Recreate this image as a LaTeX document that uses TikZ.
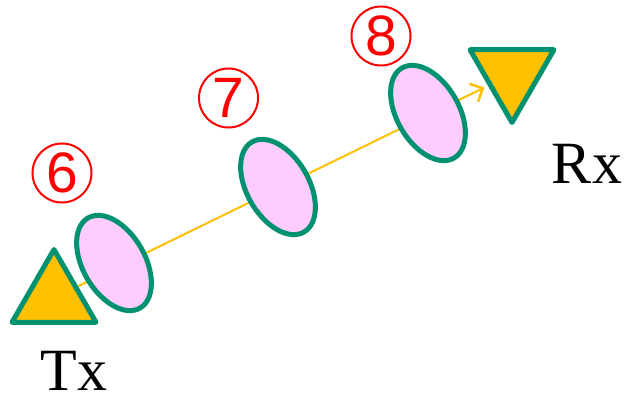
\documentclass[tikz,border=0pt]{standalone}
\usepackage{fontspec}
\setmainfont{Liberation Serif}
\setsansfont{Liberation Sans}
\usetikzlibrary{shapes.geometric,arrows.meta,backgrounds}
\definecolor{antgreen}{RGB}{0,146,112}
\definecolor{antorange}{RGB}{255,192,0}
\definecolor{lenspink}{RGB}{255,204,255}
\begin{document}
\begin{tikzpicture}[x=1pt,y=-1pt,
  antenna/.style={regular polygon,regular polygon sides=3,draw=antgreen,fill=antorange,line width=5pt,line join=round,minimum size=97pt,inner sep=0pt},
  lens/.style={ellipse,draw=antgreen,fill=lenspink,line width=5pt,minimum width=62pt,minimum height=104pt,inner sep=0pt,rotate=30},
  numlabel/.style={circle,draw=red,line width=2pt,minimum size=59pt,inner sep=0pt,text=red,font=\sffamily\fontsize{57}{57}\selectfont},
  sidelabel/.style={inner sep=0pt,font=\fontsize{60}{60}\selectfont}]
\useasboundingbox (0,0) rectangle (626,398);
\node[antenna] (tx) at (54,298) {};
\node[antenna,regular polygon rotate=180] (rx) at (512,74) {};
\node[lens] (l6) at (114,263) {};
\node[lens] (l7) at (278,187) {};
\node[lens] (l8) at (428,113) {};
\node[numlabel] (n6) at (62,173) {6};
\node[numlabel] (n7) at (228.5,98) {7};
\node[numlabel] (n8) at (381,36) {8};
\node[sidelabel] (txlabel) at (74,371) {Tx};
\node[sidelabel] (rxlabel) at (587,164) {Rx};
\begin{scope}[on background layer]
\draw[antorange,line width=2pt,-{Straight Barb[length=10pt,width=20pt,line width=2.5pt]},shorten >=4pt] (tx.center) -- (rx);
\end{scope}
\end{tikzpicture}
\end{document}
